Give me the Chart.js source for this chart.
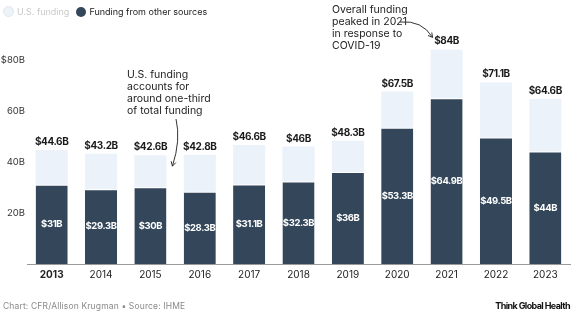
<!DOCTYPE html>
<html>
<head>
<meta charset="utf-8">
<script src="https://cdn.jsdelivr.net/npm/chart.js@4.4.0/dist/chart.umd.min.js"></script>
<style>
  html, body { margin: 0; padding: 0; background: #fff; }
  body { width: 587px; height: 327px; position: relative; overflow: hidden; font-family: Inter, sans-serif; }
  #wrap { position: absolute; left: 0; top: 0; width: 587px; height: 327px; }
  .legend { position: absolute; left: 3px; top: 6px; font-size: 9px; display: flex; align-items: center; }
  .legend span.dot { display: inline-block; width: 10px; height: 10px; border-radius: 50%; margin-right: 3px; }
  .legend .item { display: flex; align-items: center; margin-right: 7px; }
  .footer { position: absolute; left: 3px; top: 301px; font-size: 8.5px; color: #8a8a8a; letter-spacing: 0.15px; }
  .brand { position: absolute; right: 17px; top: 300px; font-size: 9px; font-weight: 700; color: #111; letter-spacing: -0.6px; }
</style>
</head>
<body>
<div id="wrap"><canvas id="fundingChart" width="587" height="327"></canvas></div>
<div class="legend">
  <div class="item" style="color:#c9c9c9"><span class="dot" style="background:#eef3fa;border:1px solid #dfe6ee;width:9px;height:9px"></span>U.S. funding</div>
  <div class="item" style="color:#222"><span class="dot" style="background:#34475a"></span>Funding from other sources</div>
</div>
<div class="footer">Chart: CFR/Allison Krugman • Source: IHME</div>
<div class="brand">Think Global Health</div>
<script>
const years = ['2013', '2014', '2015', '2016', '2017', '2018', '2019', '2020', '2021', '2022', '2023'];
const otherSources = [31, 29.3, 30, 28.3, 31.1, 32.3, 36, 53.3, 64.9, 49.5, 44];
const usFunding = [13.6, 13.9, 12.6, 14.5, 15.5, 13.7, 12.3, 14.2, 19.1, 21.6, 20.6];
const totals = [44.6, 43.2, 42.6, 42.8, 46.6, 46, 48.3, 67.5, 84, 71.1, 64.6];
const yTicks = [20, 40, 60, 80];

const DARK = '#34475a';
const LIGHT = '#ebf2fa';
const FONT = 'Inter, sans-serif';

// value labels + annotations
const labelPlugin = {
    id: 'labels',
    afterDatasetsDraw(chart) {
        const ctx = chart.ctx;
        const darkMeta = chart.getDatasetMeta(0);
        const lightMeta = chart.getDatasetMeta(1);
        ctx.save();
        ctx.textAlign = 'center';
        ctx.letterSpacing = '-0.4px';
        darkMeta.data.forEach((bar, i) => {
            ctx.font = 'bold 9.5px ' + FONT;
            ctx.fillStyle = '#fff';
            ctx.textBaseline = 'middle';
            ctx.fillText('$' + otherSources[i] + 'B', bar.x, (bar.y + bar.base) / 2);
            const top = lightMeta.data[i];
            ctx.font = 'bold 10px ' + FONT;
            ctx.fillStyle = '#1a1a1a';
            ctx.textBaseline = 'bottom';
            ctx.fillText('$' + totals[i] + 'B', top.x, top.y - 3);
        });
        ctx.letterSpacing = '0px';

        // annotations
        ctx.font = '10.5px ' + FONT;
        ctx.fillStyle = '#222';
        ctx.textAlign = 'left';
        ctx.textBaseline = 'middle';
        const note1 = ['U.S. funding', 'accounts for', 'around one-third', 'of total funding'];
        note1.forEach((t, k) => ctx.fillText(t, 127, 75 + k * 12));
        const note2 = ['Overall funding', 'peaked in 2021', 'in response to', 'COVID-19'];
        note2.forEach((t, k) => ctx.fillText(t, 332, 10 + k * 12));

        ctx.strokeStyle = '#333';
        ctx.lineWidth = 1;
        // arrow to 2015 bar
        const b15 = lightMeta.data[2];
        const ex1 = b15.x + 22, ey1 = b15.y + 11;
        ctx.beginPath();
        ctx.moveTo(176, 119);
        ctx.quadraticCurveTo(181, 140, ex1, ey1);
        ctx.stroke();
        drawHead(ctx, ex1, ey1, Math.atan2(ey1 - 145, ex1 - 178));
        // arrow to 2021 label
        const b21 = lightMeta.data[8];
        const ex2 = b21.x - 14, ey2 = b21.y - 12;
        ctx.beginPath();
        ctx.moveTo(400, 22);
        ctx.quadraticCurveTo(422, 20, ex2, ey2);
        ctx.stroke();
        drawHead(ctx, ex2, ey2, Math.atan2(ey2 - 24, ex2 - 422));
        ctx.restore();
    }
};

function drawHead(ctx, x, y, ang) {
    const len = 5;
    ctx.beginPath();
    ctx.moveTo(x - len * Math.cos(ang - 0.5), y - len * Math.sin(ang - 0.5));
    ctx.lineTo(x, y);
    ctx.lineTo(x - len * Math.cos(ang + 0.5), y - len * Math.sin(ang + 0.5));
    ctx.stroke();
}

const chartCtx = document.getElementById('fundingChart').getContext('2d');
new Chart(chartCtx, {
    type: 'bar',
    data: {
        labels: years,
        datasets: [{
            label: 'Funding from other sources',
            data: otherSources,
            backgroundColor: DARK,
            borderColor: '#ffffff',
            borderWidth: { top: 1, left: 0, right: 0, bottom: 0 },
            borderSkipped: 'start',
            barPercentage: 0.65,
            categoryPercentage: 1
        }, {
            label: 'U.S. funding',
            data: usFunding,
            backgroundColor: LIGHT,
            borderWidth: 0,
            barPercentage: 0.65,
            categoryPercentage: 1
        }]
    },
    options: {
        responsive: false,
        animation: false,
        devicePixelRatio: 1,
        layout: {
            padding: { top: 29, right: 17, bottom: 43, left: 0 }
        },
        scales: {
            x: {
                stacked: true,
                grid: { display: false, drawTicks: false },
                border: { display: true, color: '#9a9a9a' },
                ticks: {
                    color: '#222',
                    padding: 5,
                    font: (c) => ({ family: FONT, size: 10, weight: c.index === 0 ? 'bold' : 'normal' })
                },
                afterFit(scale) { scale.height = 20; }
            },
            y: {
                stacked: true,
                min: 0,
                max: 92,
                grid: { display: false, drawTicks: false },
                border: { display: false },
                afterBuildTicks(axis) { axis.ticks = yTicks.map(v => ({ value: v })); },
                ticks: {
                    color: '#333',
                    padding: 2,
                    font: { family: FONT, size: 9.5 },
                    callback: (v) => (v === 80 ? '$' : '') + v + 'B'
                },
                afterFit(scale) { scale.width = 27; }
            }
        },
        plugins: {
            legend: { display: false },
            tooltip: { enabled: false }
        }
    },
    plugins: [labelPlugin]
});
</script>
</body>
</html>
